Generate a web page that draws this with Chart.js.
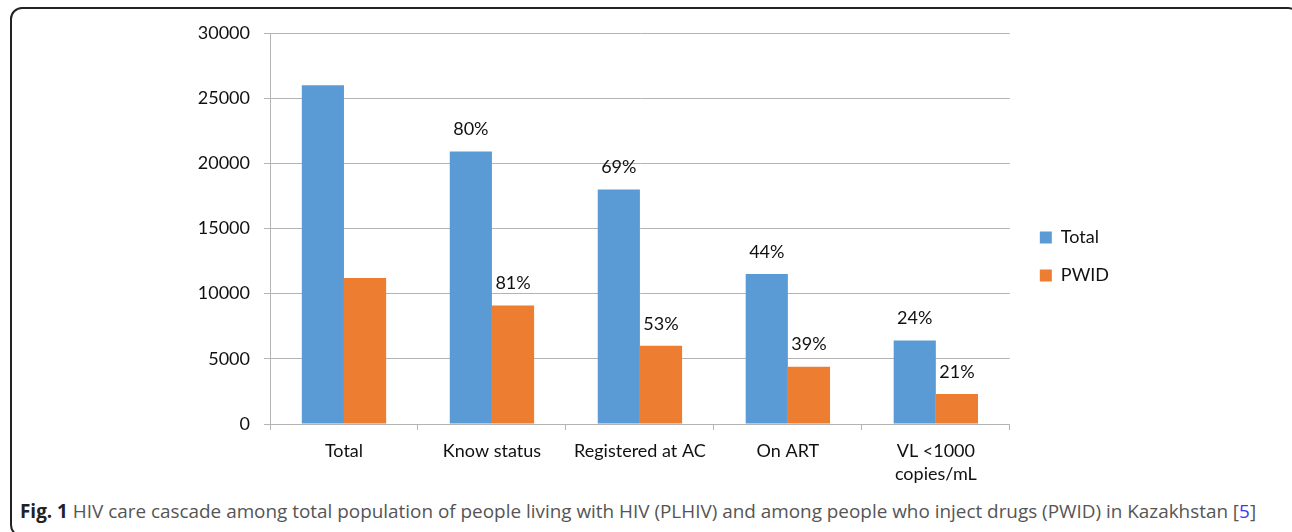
<!DOCTYPE html>
<html>
<head>
<meta charset="utf-8">
<script src="https://cdn.jsdelivr.net/npm/chart.js@4.4.1/dist/chart.umd.min.js"></script>
<style>
  html, body { margin: 0; padding: 0; background: #fff; }
  body { width: 1292px; height: 532px; position: relative; overflow: hidden; }
  #frame {
    position: absolute; left: 10px; top: 7px; width: 1290px; height: 530px;
    border: 2px solid #222; border-radius: 12px; box-sizing: border-box;
  }
  #wrap { position: absolute; left: 0; top: 0; width: 1292px; height: 490px; }
  #caption {
    position: absolute; left: 20px; top: 498px; white-space: nowrap;
    font-family: "Open Sans", sans-serif; font-size: 18.9px; color: #555;
  }
  #caption b { color: #222; }
  #caption .ref { color: #3a3af0; }
</style>
</head>
<body>
<div id="frame"></div>
<div id="wrap"><canvas id="chart" width="1292" height="490"></canvas></div>
<div id="caption"><b>Fig. 1</b> HIV care cascade among total population of people living with HIV (PLHIV) and among people who inject drugs (PWID) in Kazakhstan [<span class="ref">5</span>]</div>
<script>
const categories = ['Total', 'Know status', 'Registered at AC', 'On ART', ['VL <1000', 'copies/mL']];
const totalValues = [26000, 20900, 18000, 11500, 6400];
const pwidValues = [11200, 9100, 6000, 4400, 2300];
const totalPct = ['', '80%', '69%', '44%', '24%'];
const pwidPct = ['', '81%', '53%', '39%', '21%'];
const yTicks = [0, 5000, 10000, 15000, 20000, 25000, 30000];

const FONT = 'Lato';

// percent labels above the bars
const pctLabels = {
    id: 'pctLabels',
    afterDatasetsDraw(chart) {
        const ctx = chart.ctx;
        const sets = [totalPct, pwidPct];
        ctx.save();
        ctx.font = '18px ' + FONT;
        ctx.fillStyle = '#111';
        ctx.textAlign = 'center';
        ctx.textBaseline = 'middle';
        sets.forEach((labels, i) => {
            chart.getDatasetMeta(i).data.forEach((bar, j) => {
                if (labels[j]) ctx.fillText(labels[j], bar.x, bar.y - 22);
            });
        });
        ctx.restore();
    }
};

// nudge legend a bit right of the plot and up
const legendShift = {
    id: 'legendShift',
    afterLayout(chart) {
        chart.legend.left += 10;
        chart.legend.right += 10;
        chart.legend.top -= 5;
        chart.legend.bottom -= 5;
    }
};

new Chart(document.getElementById('chart'), {
    type: 'bar',
    data: {
        labels: categories,
        datasets: [
            { label: 'Total', data: totalValues, backgroundColor: '#5b9bd5', borderWidth: 0 },
            { label: 'PWID', data: pwidValues, backgroundColor: '#ed7d31', borderWidth: 0 }
        ]
    },
    options: {
        responsive: false,
        animation: false,
        layout: { padding: { left: 10, top: 33, right: 183, bottom: 0 } },
        datasets: { bar: { categoryPercentage: 0.57, barPercentage: 1 } },
        plugins: {
            tooltip: { enabled: false },
            legend: {
                position: 'right',
                labels: {
                    boxWidth: 12, boxHeight: 12, padding: 20,
                    color: '#111', font: { family: FONT, size: 18 }
                }
            }
        },
        scales: {
            x: {
                afterFit(s) { s.height = 66; },
                grid: { offset: true, drawOnChartArea: false, drawTicks: true, tickLength: 6, color: '#b4b4b4' },
                border: { color: '#b4b4b4' },
                ticks: { color: '#111', font: { family: FONT, size: 18, lineHeight: 1.3 }, padding: 9, maxRotation: 0, autoSkip: false }
            },
            y: {
                min: 0, max: 30000,
                afterFit(s) { s.width = 260; },
                afterBuildTicks(s) { s.ticks = yTicks.map(v => ({ value: v })); },
                grid: { color: '#b4b4b4', tickLength: 6 },
                border: { color: '#b4b4b4' },
                ticks: { color: '#111', font: { family: FONT, size: 18 }, padding: 14, callback: v => String(v) }
            }
        }
    },
    plugins: [pctLabels, legendShift]
});
</script>
</body>
</html>
